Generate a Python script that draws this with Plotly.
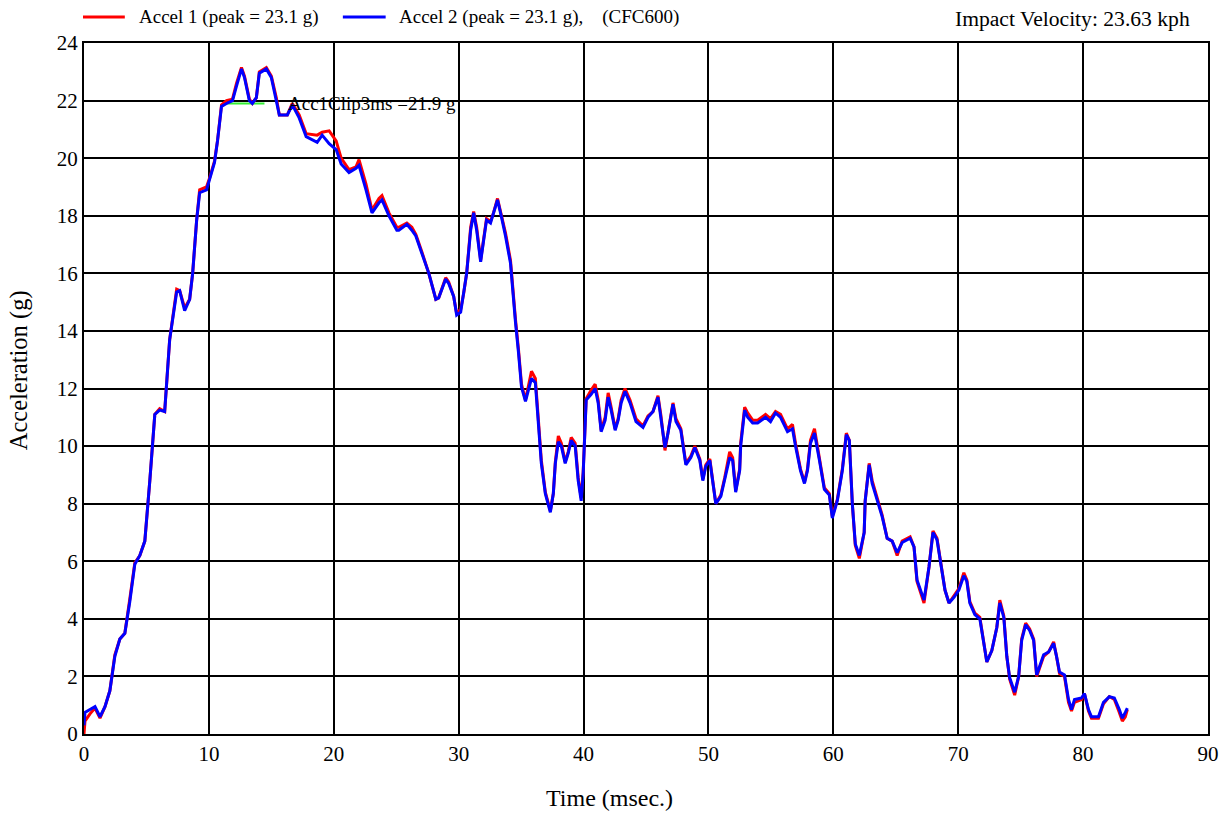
import plotly.graph_objects as go

# Sled pulse, both accelerometers (CFC600 filtered)
time_ms = [
    0.00, 0.08, 0.48, 0.88, 1.28, 1.68, 2.07, 2.47, 2.87, 3.27,
    3.67, 4.07, 4.47, 4.87, 5.27, 5.67, 6.06, 6.46, 6.86, 7.42,
    7.66, 8.06, 8.46, 8.70, 9.02, 9.26, 9.81, 10.05, 10.45, 10.69,
    11.01, 11.41, 11.89, 12.21, 12.61, 12.85, 13.24, 13.48, 13.80, 14.04,
    14.60, 15.00, 15.40, 15.64, 16.28, 16.68, 17.23, 17.79, 18.67, 19.07,
    19.63, 20.19, 20.59, 21.22, 21.78, 22.02, 22.58, 23.06, 23.62, 23.86,
    24.42, 25.05, 25.21, 25.85, 26.25, 26.57, 27.05, 27.61, 28.17, 28.40,
    28.96, 29.20, 29.60, 29.84, 30.16, 30.40, 30.64, 30.96, 31.20, 31.44,
    31.76, 32.00, 32.23, 32.55, 32.79, 33.11, 33.43, 33.75, 34.15, 34.23,
    34.55, 34.79, 35.03, 35.35, 35.59, 35.83, 36.14, 36.38, 36.62, 36.94,
    37.34, 37.58, 37.74, 37.98, 38.22, 38.53, 38.77, 39.01, 39.33, 39.57,
    39.81, 39.97, 40.21, 40.61, 40.93, 41.17, 41.41, 41.73, 41.97, 42.21,
    42.53, 42.77, 43.01, 43.32, 43.72, 44.20, 44.76, 45.16, 45.56, 45.96,
    46.20, 46.52, 46.76, 47.16, 47.40, 47.79, 48.19, 48.59, 48.91, 49.31,
    49.55, 49.79, 50.11, 50.35, 50.59, 50.99, 51.30, 51.70, 51.94, 52.18,
    52.50, 52.58, 52.90, 53.14, 53.54, 53.94, 54.57, 54.97, 55.37, 55.77,
    56.33, 56.73, 56.97, 57.37, 57.69, 57.93, 58.17, 58.49, 58.89, 59.28,
    59.68, 59.92, 60.32, 60.72, 61.04, 61.28, 61.52, 61.76, 62.08, 62.47,
    62.55, 62.87, 63.11, 63.51, 63.91, 64.31, 64.71, 65.11, 65.51, 66.15,
    66.46, 66.70, 67.26, 67.66, 67.98, 68.30, 68.54, 68.94, 69.26, 69.66,
    70.05, 70.45, 70.69, 70.93, 71.33, 71.73, 72.05, 72.29, 72.69, 73.09,
    73.33, 73.65, 73.89, 74.12, 74.52, 74.84, 75.08, 75.40, 75.72, 76.04,
    76.28, 76.52, 76.84, 77.24, 77.64, 77.87, 78.11, 78.51, 78.83, 79.07,
    79.31, 79.87, 80.11, 80.43, 80.67, 81.23, 81.63, 82.10, 82.50, 82.90,
    83.14, 83.38, 83.54,
]

accel1_g = [
    0.00, 0.45, 0.70, 0.90, 0.55, 0.95, 1.50, 2.75, 3.30, 3.50,
    4.70, 5.95, 6.20, 6.70, 8.80, 11.10, 11.30, 11.20, 13.70, 15.45,
    15.40, 14.80, 15.10, 16.00, 17.85, 18.90, 19.00, 19.30, 19.90, 20.60,
    21.85, 22.00, 22.05, 22.60, 23.15, 22.85, 22.05, 21.90, 22.10, 23.00,
    23.15, 22.85, 22.10, 21.50, 21.50, 21.90, 21.50, 20.85, 20.80, 20.90,
    20.95, 20.60, 20.00, 19.60, 19.70, 19.95, 19.10, 18.20, 18.60, 18.70,
    18.10, 17.60, 17.60, 17.75, 17.60, 17.35, 16.75, 16.00, 15.10, 15.15,
    15.85, 15.70, 15.20, 14.60, 14.75, 15.30, 16.00, 17.60, 18.15, 17.60,
    16.45, 17.20, 17.90, 17.80, 18.10, 18.60, 18.00, 17.40, 16.45, 16.00,
    14.40, 13.35, 12.15, 11.60, 12.05, 12.60, 12.35, 10.95, 9.50, 8.40,
    7.75, 8.35, 9.45, 10.35, 10.10, 9.45, 9.80, 10.30, 10.10, 8.90,
    8.20, 9.10, 11.65, 11.95, 12.15, 11.60, 10.55, 11.00, 11.85, 11.35,
    10.60, 10.95, 11.60, 12.00, 11.60, 10.95, 10.70, 11.05, 11.20, 11.75,
    11.05, 9.85, 10.50, 11.50, 10.95, 10.60, 9.40, 9.65, 10.00, 9.55,
    8.85, 9.35, 9.55, 8.85, 8.00, 8.30, 8.90, 9.80, 9.60, 8.45,
    9.20, 10.10, 11.35, 11.15, 10.90, 10.90, 11.10, 10.95, 11.20, 11.10,
    10.60, 10.75, 10.10, 9.20, 8.75, 9.20, 10.20, 10.60, 9.60, 8.55,
    8.35, 7.55, 8.15, 9.20, 10.45, 10.20, 8.00, 6.55, 6.10, 7.00,
    8.10, 9.40, 8.80, 8.20, 7.60, 6.80, 6.70, 6.20, 6.70, 6.85,
    6.50, 5.30, 4.55, 5.80, 7.05, 6.80, 6.10, 5.00, 4.55, 4.80,
    5.05, 5.60, 5.35, 4.60, 4.20, 4.05, 3.20, 2.50, 2.90, 3.70,
    4.65, 4.10, 2.70, 1.90, 1.35, 2.00, 3.30, 3.85, 3.65, 3.30,
    2.00, 2.30, 2.70, 2.85, 3.20, 2.70, 2.10, 2.00, 1.10, 0.80,
    1.10, 1.20, 1.40, 0.80, 0.55, 0.55, 1.05, 1.30, 1.20, 0.75,
    0.45, 0.60, 0.85,
]

accel2_g = [
    0.30, 0.75, 0.85, 0.95, 0.60, 0.95, 1.50, 2.70, 3.30, 3.50,
    4.60, 5.90, 6.20, 6.70, 8.80, 11.10, 11.25, 11.20, 13.70, 15.35,
    15.40, 14.70, 15.10, 16.00, 17.85, 18.80, 18.90, 19.25, 19.85, 20.60,
    21.80, 21.90, 22.00, 22.50, 23.10, 22.80, 22.00, 21.90, 22.10, 22.95,
    23.10, 22.80, 22.00, 21.50, 21.50, 21.85, 21.40, 20.75, 20.55, 20.80,
    20.50, 20.30, 19.80, 19.50, 19.65, 19.75, 18.90, 18.10, 18.45, 18.55,
    18.00, 17.50, 17.50, 17.70, 17.50, 17.30, 16.70, 16.00, 15.10, 15.15,
    15.80, 15.65, 15.20, 14.55, 14.65, 15.30, 16.00, 17.50, 18.10, 17.50,
    16.40, 17.15, 17.85, 17.75, 18.10, 18.55, 17.95, 17.30, 16.35, 15.90,
    14.30, 13.25, 12.05, 11.55, 11.95, 12.35, 12.20, 10.80, 9.40, 8.35,
    7.70, 8.35, 9.40, 10.15, 10.00, 9.40, 9.75, 10.20, 10.00, 8.80,
    8.10, 9.05, 11.60, 11.80, 12.00, 11.50, 10.50, 10.90, 11.70, 11.25,
    10.55, 10.90, 11.50, 11.90, 11.50, 10.85, 10.65, 11.00, 11.20, 11.70,
    11.00, 9.95, 10.45, 11.45, 10.85, 10.55, 9.35, 9.60, 9.95, 9.50,
    8.80, 9.30, 9.50, 8.80, 8.00, 8.25, 8.80, 9.60, 9.50, 8.40,
    9.15, 10.00, 11.25, 11.00, 10.80, 10.80, 11.00, 10.85, 11.15, 11.00,
    10.50, 10.60, 10.00, 9.15, 8.70, 9.15, 10.10, 10.45, 9.50, 8.50,
    8.30, 7.50, 8.10, 9.15, 10.40, 10.20, 8.00, 6.60, 6.20, 7.00,
    8.10, 9.35, 8.70, 8.10, 7.55, 6.80, 6.70, 6.30, 6.65, 6.80,
    6.50, 5.35, 4.65, 5.80, 7.00, 6.75, 6.05, 5.00, 4.55, 4.75,
    5.00, 5.50, 5.30, 4.55, 4.15, 4.00, 3.15, 2.50, 2.90, 3.70,
    4.55, 4.05, 2.70, 1.95, 1.45, 2.00, 3.25, 3.80, 3.60, 3.25,
    2.05, 2.35, 2.75, 2.85, 3.15, 2.70, 2.15, 2.05, 1.20, 0.85,
    1.20, 1.25, 1.40, 0.85, 0.60, 0.60, 1.10, 1.30, 1.25, 0.85,
    0.55, 0.75, 0.90,
]

# 3 ms clip of Accel 1
clip_window_ms = [11.45, 14.45]
clip_level_g = 21.9

peak1_g = 23.1
peak2_g = 23.1
impact_velocity_kph = 23.63

x_ticks = [0, 10, 20, 30, 40, 50, 60, 70, 80, 90]
y_ticks = [0, 2, 4, 6, 8, 10, 12, 14, 16, 18, 20, 22, 24]

SERIF = "Liberation Serif, Times New Roman, serif"
RED = "#ff0000"
BLUE = "#0000ff"
GREEN = "#33ee33"

name1 = f"Accel 1 (peak = {peak1_g} g)"
name2 = f"Accel 2 (peak = {peak2_g} g),\u00a0\u00a0\u00a0\u00a0(CFC600)"

fig = go.Figure()
fig.add_trace(go.Scatter(x=time_ms, y=accel1_g, mode="lines", name=name1,
                         line=dict(color=RED, width=3), showlegend=False))
fig.add_trace(go.Scatter(x=clip_window_ms, y=[clip_level_g, clip_level_g],
                         mode="lines", name="Acc1Clip3ms",
                         line=dict(color=GREEN, width=2), showlegend=False))
fig.add_trace(go.Scatter(x=time_ms, y=accel2_g, mode="lines", name=name2,
                         line=dict(color=BLUE, width=3), showlegend=False))

# Plot area in pixels: left 84, right 1213, top 43, bottom 734
L, R, T, B = 84, 1213, 43, 734
def px(xp):
    return (xp - L) / (R - L)
def py(yp):
    return (B - yp) / (B - T)

# Legend keys drawn above the plot
legend_y = py(17)
shapes = [
    dict(type="line", xref="paper", yref="paper", x0=px(83), x1=px(125),
         y0=legend_y, y1=legend_y, line=dict(color=RED, width=3)),
    dict(type="line", xref="paper", yref="paper", x0=px(344), x1=px(387),
         y0=legend_y, y1=legend_y, line=dict(color=BLUE, width=3)),
]

annotations = [
    dict(text=name1, xref="paper", yref="paper", x=px(137), y=legend_y,
         xanchor="left", yanchor="middle", showarrow=False,
         font=dict(family=SERIF, size=19, color="black")),
    dict(text=name2, xref="paper", yref="paper", x=px(398), y=legend_y,
         xanchor="left", yanchor="middle", showarrow=False,
         font=dict(family=SERIF, size=19, color="black")),
    dict(text=f"Impact Velocity: {impact_velocity_kph} kph", xref="paper",
         yref="paper", x=px(1197), y=py(19), xanchor="right", yanchor="middle",
         showarrow=False, font=dict(family=SERIF, size=21.6, color="black")),
    dict(text=f"Acc1Clip3ms ={clip_level_g} g", xref="x", yref="y",
         x=16.2, y=clip_level_g, xanchor="left", yanchor="middle",
         showarrow=False, font=dict(family=SERIF, size=19, color="black")),
    dict(text="Time (msec.)", xref="paper", yref="paper", x=px(612), y=py(798),
         xanchor="center", yanchor="middle", showarrow=False,
         font=dict(family=SERIF, size=24, color="black")),
    dict(text="Acceleration (g)", xref="paper", yref="paper", x=px(19), y=py(370),
         xanchor="center", yanchor="middle", textangle=-90, showarrow=False,
         font=dict(family=SERIF, size=24.5, color="black")),
]

fig.update_layout(
    width=1231, height=817,
    margin=dict(l=L, r=1231 - R, t=T, b=817 - B, pad=0),
    paper_bgcolor="white", plot_bgcolor="white",
    shapes=shapes, annotations=annotations,
    showlegend=False,
    font=dict(family=SERIF, size=21, color="black"),
)
fig.update_xaxes(range=[0, 90], tickvals=x_ticks, ticks="", showgrid=True,
                 gridcolor="black", gridwidth=2, zeroline=False,
                 showline=True, linecolor="black", linewidth=2, mirror=True,
                 tickfont=dict(family=SERIF, size=21, color="black"))
fig.update_yaxes(range=[0, 24], tickvals=y_ticks, ticks="", showgrid=True,
                 gridcolor="black", gridwidth=2, zeroline=False,
                 showline=True, linecolor="black", linewidth=2, mirror=True,
                 tickfont=dict(family=SERIF, size=21, color="black"))

fig.write_html("out.html")
